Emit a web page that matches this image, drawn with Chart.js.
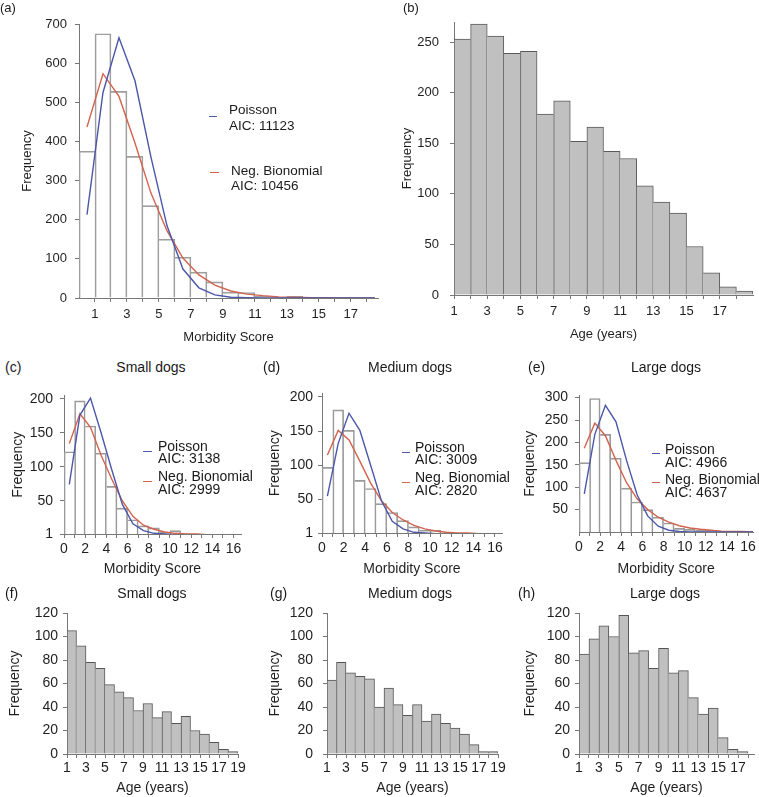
<!DOCTYPE html>
<html><head><meta charset="utf-8">
<script src="https://cdn.jsdelivr.net/npm/chart.js@4.4.1/dist/chart.umd.min.js"></script>
<style>
html,body{margin:0;padding:0;background:#fff;}
body{width:759px;height:797px;position:relative;overflow:hidden;font-family:"Liberation Sans",Arial,Helvetica,sans-serif;color:#1a1a1a;}
.t{position:absolute;white-space:nowrap;line-height:1;}
.sw{position:absolute;height:0;border-top:1.5px solid;}
</style></head><body>
<script>
// ---------------- DATA ----------------
// (a) all dogs – morbidity score histogram + fitted curves
const scoreMidsA = [0.5,1.5,2.5,3.5,4.5,5.5,6.5,7.5,8.5,9.5,10.5,11.5,12.5,13.5,14.5,15.5,16.5,17.5];
const freqA = [375,675,528,362,236,150,104,66,41,15,14,4,2,4,1,1,2,1];
const curveMidsA = [0.5,1.5,2.5,3.5,4.5,5.5,6.5,7.5,8.5,9.5,10.5,11.5,12.5,13.5,14.5,15.5,16.5,17.5,18.5];
const poissonA = [213,525,665,555,360,185,74,26,8,2,1,0,0,0,0,0,0,0,0];
const negBinA = [437,573,515,396,268,172,102,59,33,18,10,6,3,2,1,1,0,0,0];
const scoreLabelsA = [1,3,5,7,9,11,13,15,17];
const freqTicksA = [0,100,200,300,400,500,600,700];

// (b) all dogs – age histogram
const ageMidsB = [1.5,2.5,3.5,4.5,5.5,6.5,7.5,8.5,9.5,10.5,11.5,12.5,13.5,14.5,15.5,16.5,17.5,18.5];
const freqB = [253,268,256,239,241,179,192,152,166,142,135,108,92,81,48,22,8,4];
const ageLabelsB = [1,3,5,7,9,11,13,15,17];
const freqTicksB = [0,50,100,150,200,250];

// (c)(d)(e) by size – morbidity score
const scoreMidsSize = [0.5,1.5,2.5,3.5,4.5,5.5,6.5,7.5,8.5,9.5,10.5,11.5,12.5,13.5,14.5,15.5];
const curveMidsSize = [0.5,1.5,2.5,3.5,4.5,5.5,6.5,7.5,8.5,9.5,10.5,11.5,12.5,13.5,14.5,15.5,16.5];
const freqSmall = [122,197,160,120,71,39,22,13,10,4,6,1,0,0,0,0];
const poissonSmall = [74,176,201,150,96,45,16,6,2,1,0,0,0,0,0,0,0];
const negBinSmall = [134,178,158,117,82,50,27,14,8,4,2,1,1,0,0,0,0];
const freqMedium = [97,181,151,78,66,44,31,19,10,5,5,1,1,0,1,1];
const poissonMedium = [55,132,176,151,100,48,18,7,2,1,0,0,0,0,0,0,0];
const negBinMedium = [115,151,137,106,74,48,31,20,12,7,4,2,1,1,0,0,0];
const freqLarge = [155,298,218,165,98,67,50,33,20,8,6,4,4,1,0,1];
const poissonLarge = [85,218,283,246,160,83,36,13,4,1,0,0,0,0,0,0,0];
const negBinLarge = [187,243,215,160,110,74,50,33,22,14,9,6,4,2,1,1,0];
const scoreLabelsSize = [0,2,4,6,8,10,12,14,16];
const freqTicksSmall = [1,50,100,150,200];
const freqTicksMedium = [1,50,100,150,200];
const freqTicksLarge = [50,100,150,200,250,300];

// (f)(g)(h) by size – age
const ageMidsSmall = [1.5,2.5,3.5,4.5,5.5,6.5,7.5,8.5,9.5,10.5,11.5,12.5,13.5,14.5,15.5,16.5,17.5,18.5];
const ageFreqSmall = [105,92,78,73,59,53,48,37,43,31,36,26,32,20,17,10,4,2];
const ageMidsMedium = [1.5,2.5,3.5,4.5,5.5,6.5,7.5,8.5,9.5,10.5,11.5,12.5,13.5,14.5,15.5,16.5,17.5,18.5];
const ageFreqMedium = [63,78,69,66,64,40,56,42,33,42,28,34,26,22,17,8,2,2];
const ageMidsLarge = [1.5,2.5,3.5,4.5,5.5,6.5,7.5,8.5,9.5,10.5,11.5,12.5,13.5,14.5,15.5,16.5,17.5];
const ageFreqLarge = [85,98,109,100,118,86,88,73,90,69,71,48,34,39,14,4,2];
const ageLabelsSM = [1,3,5,7,9,11,13,15,17,19];
const ageLabelsL = [1,3,5,7,9,11,13,15,17];
const ageFreqTicks = [0,20,40,60,80,100,120];

// legend text
const seriesNames = ['Poisson','Neg. Bionomial'];
const aicPoisson = [11123,3138,3009,4966];
const aicNegBin = [10456,2999,2820,4637];

// ---------------- DRAWING ----------------
const FONT = '"Liberation Sans", Arial, Helvetica, sans-serif';
const BLUE = '#4b57a8', RED = '#d2634e', AXIS = '#777', TXT = '#1f1f1f';

function ints(lo, hi){ const r=[]; for(let v=lo; v<=hi; v++) r.push(v); return r; }

function panel(p){
  const [cl,ct,cw,ch] = p.box, [L,T,R,B] = p.area;
  const cv = document.createElement('canvas');
  cv.width = cw; cv.height = ch;
  cv.style.cssText = `position:absolute;left:${cl}px;top:${ct}px;width:${cw}px;height:${ch}px;`;
  document.body.appendChild(cv);
  const ds = [];
  if (p.pois){
    ds.push({type:'line', label:seriesNames[0], data:p.cx.map((x,i)=>({x, y:p.pois[i]})), borderColor:BLUE, borderWidth:1.4, pointRadius:0, tension:0, fill:false, order:0});
    ds.push({type:'line', label:seriesNames[1], data:p.cx.map((x,i)=>({x, y:p.nb[i]})), borderColor:RED, borderWidth:1.4, pointRadius:0, tension:0, fill:false, order:1});
  }
  const h = p.bars, n = h.length;
  ds.push({type:'bar', label:'Frequency', data:p.bx.map((x,i)=>({x, y:h[i]})),
    backgroundColor:p.fill, borderColor:p.edge,
    borderWidth:(c)=>{ const i=c.dataIndex;
      return {top:1, bottom:0, left:(i===0 || h[i]>=h[i-1])?1:0, right:(i===n-1 || h[i]>h[i+1])?1:0}; },
    borderSkipped:false, barPercentage:1, categoryPercentage:1, order:2});
  const fs = p.fs, tfs = p.tfs;
  new Chart(cv, {
    type:'bar',
    data:{datasets:ds},
    options:{
      responsive:false, animation:false, devicePixelRatio:1,
      layout:{padding:{left:0, top:T-ct, right:cl+cw-R, bottom:0}},
      plugins:{legend:{display:false}, tooltip:{enabled:false}, title:{display:false}},
      scales:{
        x:{type:'linear', min:p.xr[0], max:p.xr[1], offset:false,
          grid:{display:true, offset:false, drawOnChartArea:false, drawTicks:true, tickLength:4, color:AXIS, tickColor:AXIS},
          border:{display:true, color:AXIS, width:1},
          ticks:{autoSkip:false, maxRotation:0, padding:p.xpad, color:TXT, font:{family:FONT, size:fs},
            callback:(v)=> p.xl.includes(v) ? String(v) : ''},
          afterBuildTicks:(s)=>{ s.ticks = p.xt.map(v=>({value:v})); },
          afterFit:(s)=>{ s.height = ct+ch-B; },
          title:{display:true, text:p.xtitle, color:TXT, font:{family:FONT, size:tfs}, padding:{top:0, bottom:p.xtb}}
        },
        y:{type:'linear', min:p.yr[0], max:p.yr[1],
          grid:{display:true, drawOnChartArea:false, drawTicks:true, tickLength:4, color:AXIS, tickColor:AXIS},
          border:{display:true, color:AXIS, width:1},
          ticks:{autoSkip:false, padding:p.ypad, color:TXT, font:{family:FONT, size:fs}},
          afterBuildTicks:(s)=>{ s.ticks = p.yt.map(v=>({value:v})); },
          afterFit:(s)=>{ s.width = L-cl; },
          title:{display:true, text:'Frequency', color:TXT, font:{family:FONT, size:tfs}, padding:{top:p.ytt, bottom:0}}
        }
      }
    }
  });
}

function txt(s, x, cy, size, align){
  const d = document.createElement('div');
  d.className = 't'; d.textContent = s;
  d.style.fontSize = size+'px';
  d.style.top = (cy - 0.49*size)+'px';
  d.style.left = x+'px';
  if (align==='center') d.style.transform = 'translateX(-50%)';
  document.body.appendChild(d);
}
function sw(x1,x2,y,color){
  const d = document.createElement('div');
  d.className='sw';
  d.style.left=x1+'px'; d.style.width=(x2-x1)+'px'; d.style.top=(y-0.75)+'px'; d.style.borderColor=color;
  document.body.appendChild(d);
}

const OPEN = 'rgba(255,255,255,0)', GREY = '#c0c0c0';

// (a)
panel({box:[0,0,392,345], area:[79,24,378,298], xr:[0,18.7], yr:[0,700], bx:scoreMidsA, bars:freqA, cx:curveMidsA, pois:poissonA, nb:negBinA,
  fill:OPEN, edge:'#9e9e9e', xt:ints(1,18), xl:scoreLabelsA, yt:freqTicksA, fs:13, tfs:13, xpad:5, ypad:8, xtitle:'Morbidity Score', xtb:0, ytt:20});
// (b)
panel({box:[380,0,379,345], area:[454,22,753,295], xr:[1,19], yr:[0,270], bx:ageMidsB, bars:freqB,
  fill:GREY, edge:'#5a5a5a', xt:ints(1,18), xl:ageLabelsB, yt:freqTicksB, fs:13, tfs:13, xpad:5, ypad:11, xtitle:'Age (years)', xtb:3, ytt:20});
// (c)
panel({box:[0,380,256,200], area:[64,388,241,534], xr:[0,16.7], yr:[1,205], bx:scoreMidsSize, bars:freqSmall, cx:curveMidsSize, pois:poissonSmall, nb:negBinSmall,
  fill:OPEN, edge:'#9a9a9a', xt:ints(0,16), xl:scoreLabelsSize, yt:freqTicksSmall, fs:14, tfs:14, xpad:3, ypad:7, xtitle:'Morbidity Score', xtb:2.6, ytt:9.6});
// (d)
panel({box:[255,380,262,200], area:[322,390,502,533], xr:[0,16.65], yr:[1,205], bx:scoreMidsSize, bars:freqMedium, cx:curveMidsSize, pois:poissonMedium, nb:negBinMedium,
  fill:OPEN, edge:'#9a9a9a', xt:ints(0,16), xl:scoreLabelsSize, yt:freqTicksMedium, fs:14, tfs:14, xpad:3, ypad:5, xtitle:'Morbidity Score', xtb:2.6, ytt:11.6});
// (e)
panel({box:[510,380,249,200], area:[579,392,754,532], xr:[0,16.5], yr:[0,305], bx:scoreMidsSize, bars:freqLarge, cx:curveMidsSize, pois:poissonLarge, nb:negBinLarge,
  fill:OPEN, edge:'#9a9a9a', xt:ints(0,16), xl:scoreLabelsSize, yt:freqTicksLarge, fs:14, tfs:14, xpad:3, ypad:7, xtitle:'Morbidity Score', xtb:2.6, ytt:11.6});
// (f)
panel({box:[0,590,256,207], area:[67,613,238,754], xr:[1,19], yr:[0,120], bx:ageMidsSmall, bars:ageFreqSmall,
  fill:GREY, edge:'#555', xt:ints(1,19), xl:ageLabelsSM, yt:ageFreqTicks, fs:14, tfs:14, xpad:2, ypad:5, xtitle:'Age (years)', xtb:0.6, ytt:6.6});
// (g)
panel({box:[255,590,262,207], area:[327,613,498,754], xr:[1,19], yr:[0,120], bx:ageMidsMedium, bars:ageFreqMedium,
  fill:GREY, edge:'#555', xt:ints(1,19), xl:ageLabelsSM, yt:ageFreqTicks, fs:14, tfs:14, xpad:2, ypad:10, xtitle:'Age (years)', xtb:0.6, ytt:11.6});
// (h)
panel({box:[510,590,249,207], area:[579,613,754,754], xr:[1,18.6], yr:[0,120], bx:ageMidsLarge, bars:ageFreqLarge,
  fill:GREY, edge:'#555', xt:ints(1,18), xl:ageLabelsL, yt:ageFreqTicks, fs:14, tfs:14, xpad:2, ypad:5, xtitle:'Age (years)', xtb:0.6, ytt:11.6});

// panel letters and titles
txt('(a)', 0, 7, 13); txt('(b)', 403, 7, 13);
txt('(c)', 5, 367, 14); txt('Small dogs', 151, 367, 14, 'center');
txt('(d)', 263, 367, 14); txt('Medium dogs', 410, 367, 14, 'center');
txt('(e)', 528, 367, 14); txt('Large dogs', 666, 367, 14, 'center');
txt('(f)', 5, 593, 14); txt('Small dogs', 152, 593, 14, 'center');
txt('(g)', 270, 593, 14); txt('Medium dogs', 410, 593, 14, 'center');
txt('(h)', 518, 593, 14); txt('Large dogs', 665, 593, 14, 'center');

// in-plot legends
sw(209,217,117,BLUE); txt(seriesNames[0],229,110,13.5); txt('AIC: '+aicPoisson[0],229,126,13.5);
sw(210,219,173,RED);  txt(seriesNames[1],231,171,13.5); txt('AIC: '+aicNegBin[0],231,186,13.5);
sw(143,152,452,BLUE); txt(seriesNames[0],158,446,14); txt('AIC: '+aicPoisson[1],158,458,14);
sw(143,152,482,RED);  txt(seriesNames[1],158,476,14); txt('AIC: '+aicNegBin[1],158,489,14);
sw(402,410,453,BLUE); txt(seriesNames[0],415,447,14); txt('AIC: '+aicPoisson[2],415,459,14);
sw(402,410,483,RED);  txt(seriesNames[1],415,477,14); txt('AIC: '+aicNegBin[2],415,490,14);
sw(652,660,454,BLUE); txt(seriesNames[0],665,449,14); txt('AIC: '+aicPoisson[3],665,462,14);
sw(652,660,483,RED);  txt(seriesNames[1],665,479,14); txt('AIC: '+aicNegBin[3],665,492,14);
</script>
</body></html>
